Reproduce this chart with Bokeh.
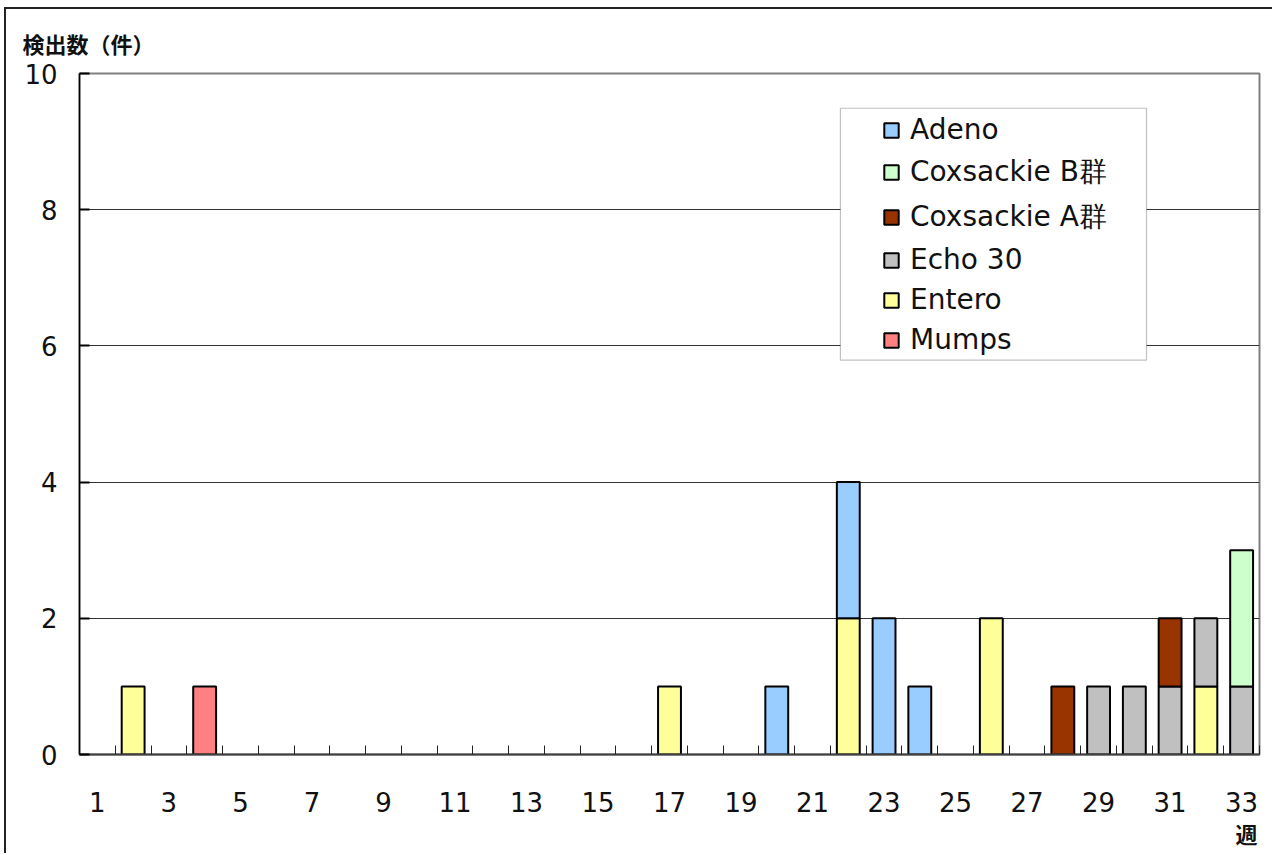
from bokeh.plotting import figure
from bokeh.models import ColumnDataSource, FixedTicker, Legend, LegendItem, Title, BoxAnnotation, Range1d
from bokeh.embed import file_html
from bokeh.resources import INLINE

# ---- data (weeks 1..33) ----
weeks = list(range(1, 34))
x_tick_labels = [1, 3, 5, 7, 9, 11, 13, 15, 17, 19, 21, 23, 25, 27, 29, 31, 33]
y_ticks = [0, 2, 4, 6, 8, 10]

mumps = [0, 0, 0, 1, 0, 0, 0, 0, 0, 0, 0,
         0, 0, 0, 0, 0, 0, 0, 0, 0, 0, 0,
         0, 0, 0, 0, 0, 0, 0, 0, 0, 0, 0]
entero = [0, 1, 0, 0, 0, 0, 0, 0, 0, 0, 0,
          0, 0, 0, 0, 0, 1, 0, 0, 0, 0, 2,
          0, 0, 0, 2, 0, 0, 0, 0, 0, 1, 0]
echo30 = [0, 0, 0, 0, 0, 0, 0, 0, 0, 0, 0,
          0, 0, 0, 0, 0, 0, 0, 0, 0, 0, 0,
          0, 0, 0, 0, 0, 0, 1, 1, 1, 1, 1]
coxa = [0, 0, 0, 0, 0, 0, 0, 0, 0, 0, 0,
        0, 0, 0, 0, 0, 0, 0, 0, 0, 0, 0,
        0, 0, 0, 0, 0, 1, 0, 0, 1, 0, 0]
coxb = [0, 0, 0, 0, 0, 0, 0, 0, 0, 0, 0,
        0, 0, 0, 0, 0, 0, 0, 0, 0, 0, 0,
        0, 0, 0, 0, 0, 0, 0, 0, 0, 0, 2]
adeno = [0, 0, 0, 0, 0, 0, 0, 0, 0, 0, 0,
         0, 0, 0, 0, 0, 0, 0, 0, 1, 0, 2,
         2, 1, 0, 0, 0, 0, 0, 0, 0, 0, 0]

# stacking order bottom -> top
series_names = ["Mumps", "Entero", "Echo 30", "Coxsackie A群", "Coxsackie B群", "Adeno"]
series_values = [mumps, entero, echo30, coxa, coxb, adeno]
series_colors = ["#FF8080", "#FFFF99", "#C0C0C0", "#993300", "#CCFFCC", "#99CCFF"]
legend_order = ["Adeno", "Coxsackie B群", "Coxsackie A群", "Echo 30", "Entero", "Mumps"]

FONT = "DejaVu Sans"
CJK = "Noto Sans CJK JP"

p = figure(width=1268, height=846, output_backend="svg", toolbar_location=None,
           x_range=Range1d(0.5, 33.5), y_range=Range1d(0, 10),
           min_border_left=73, min_border_right=15, min_border_top=64, min_border_bottom=101)
p.styles = {"border-left": "2px solid #222", "border-top": "2px solid #222",
            "margin-left": "4px", "margin-top": "7px"}
p.background_fill_color = "white"
p.border_fill_color = "white"
p.outline_line_color = "#808080"
p.outline_line_width = 2

# stacked bars
renderers = {}
base = [0] * len(weeks)
for name, vals, col in zip(series_names, series_values, series_colors):
    xs, bots, tops = [], [], []
    for i, w in enumerate(weeks):
        if vals[i] > 0:
            xs.append(w)
            bots.append(base[i])
            tops.append(base[i] + vals[i])
    base = [b + v for b, v in zip(base, vals)]
    src = ColumnDataSource(dict(x=xs, bottom=bots, top=tops))
    r = p.vbar(x="x", bottom="bottom", top="top", width=0.64, source=src,
               fill_color=col, line_color="black", line_width=2)
    renderers[name] = r

# axes
xa = p.xaxis[0]
xa.ticker = FixedTicker(ticks=x_tick_labels, minor_ticks=[w + 0.5 for w in [0] + weeks])
xa.major_tick_in = 0
xa.major_tick_out = 0
xa.minor_tick_in = 9
xa.minor_tick_out = 0
xa.minor_tick_line_color = "#222222"
xa.minor_tick_line_width = 1
xa.axis_line_color = "#404040"
xa.axis_line_width = 2
xa.major_label_standoff = 37
xa.major_label_text_font = FONT
xa.major_label_text_font_size = "26px"
xa.major_label_text_color = "#111111"

ya = p.yaxis[0]
ya.ticker = FixedTicker(ticks=y_ticks)
ya.major_tick_in = 10
ya.major_tick_out = 0
ya.major_tick_line_color = "black"
ya.major_tick_line_width = 2
ya.minor_tick_line_color = None
ya.axis_line_color = "black"
ya.axis_line_width = 1.5
ya.major_label_standoff = 22
ya.major_label_text_font = FONT
ya.major_label_text_font_size = "26px"
ya.major_label_text_color = "#111111"

p.xgrid.grid_line_color = None
p.ygrid.ticker = FixedTicker(ticks=[2, 4, 6, 8])
p.ygrid.grid_line_color = "#333333"
p.ygrid.grid_line_width = 1

# legend frame
box = BoxAnnotation(left=21.78, right=30.34, bottom=5.79, top=9.49,
                    fill_color="white", fill_alpha=1.0, line_color="#333333", line_width=1.2)
p.add_layout(box)

items = [LegendItem(label=n, renderers=[renderers[n]]) for n in legend_order]
legend = Legend(items=items, location=(803, 398), orientation="vertical",
                padding=10, spacing=7, label_height=20, glyph_width=18, glyph_height=18,
                label_standoff=10, border_line_color=None, background_fill_alpha=0,
                label_text_font=FONT, label_text_font_size="28px", label_text_color="#111111",
                label_text_baseline="middle")
p.add_layout(legend, "center")

# axis titles
p.add_layout(Title(text="検出数（件）", align="left", vertical_align="top", offset=-57, standoff=26,
                   text_font=CJK, text_font_size="22px", text_font_style="bold",
                   text_color="#111111"), "above")
p.add_layout(Title(text="週", align="right", offset=2, standoff=0,
                   text_font=CJK, text_font_size="22px", text_font_style="bold",
                   text_color="#111111"), "below")

open("out.html", "w").write(file_html(p, INLINE))
